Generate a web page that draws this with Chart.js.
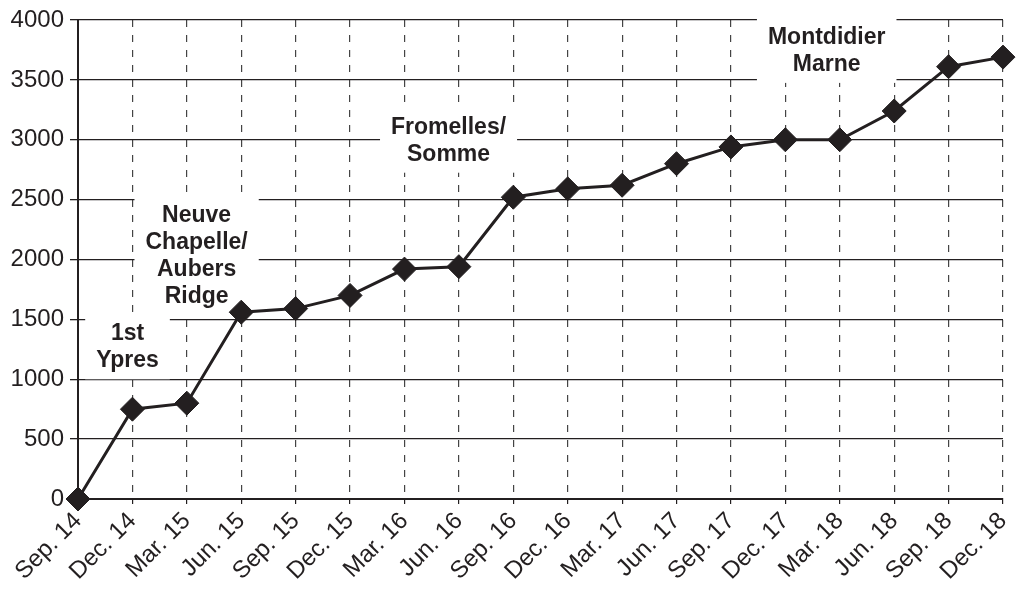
<!DOCTYPE html>
<html>
<head>
<meta charset="utf-8">
<script src="https://cdn.jsdelivr.net/npm/chart.js@4.4.1/dist/chart.umd.min.js"></script>
<style>
  html, body { margin: 0; padding: 0; background: #fff; }
  #wrap { width: 1016px; height: 590px; }
</style>
</head>
<body>
<div id="wrap"><canvas id="chart" width="1016" height="590"></canvas></div>
<script>
// quarters
var quarters = ['Sep. 14', 'Dec. 14', 'Mar. 15', 'Jun. 15', 'Sep. 15', 'Dec. 15',
  'Mar. 16', 'Jun. 16', 'Sep. 16', 'Dec. 16', 'Mar. 17', 'Jun. 17',
  'Sep. 17', 'Dec. 17', 'Mar. 18', 'Jun. 18', 'Sep. 18', 'Dec. 18'];

var totals = [0, 750, 800, 1560, 1590, 1700, 1920, 1940, 2520, 2590, 2620, 2800,
  2940, 3000, 3000, 3240, 3610, 3690];

var yTicks = [0, 500, 1000, 1500, 2000, 2500, 3000, 3500, 4000];

// battle labels, placed in data units (category index, value)
var battleNames = [['1st', 'Ypres'], ['Neuve', 'Chapelle/', 'Aubers', 'Ridge'],
  ['Fromelles/', 'Somme'], ['Montdidier', 'Marne']];
var battleAt = [[0.91, 1267], [2.18, 2025], [6.81, 2992], [13.76, 3742]];

var fontFam = '"Liberation Sans", Arial, Helvetica, sans-serif';
var labelFont = 'bold 23px ' + fontFam;

var battlePlugin = {
  id: 'battles',
  beforeDatasetsDraw: function(chart) {
    var ctx = chart.ctx;
    var xs = chart.scales.x, ys = chart.scales.y;
    var lineH = 27;
    ctx.save();
    ctx.font = labelFont;
    ctx.textAlign = 'center';
    ctx.textBaseline = 'middle';
    for (var i = 0; i < battleNames.length; i++) {
      var lines = battleNames[i];
      var cx = xs.getPixelForValue(battleAt[i][0]);
      var cy = ys.getPixelForValue(battleAt[i][1]);
      var w = 0;
      for (var j = 0; j < lines.length; j++) {
        w = Math.max(w, ctx.measureText(lines[j]).width);
      }
      var h = lines.length * lineH;
      ctx.fillStyle = '#fff';
      ctx.fillRect(cx - w / 2 - 11, cy - h / 2 - 5, w + 22, h + 10);
      ctx.fillStyle = '#231f20';
      for (var j = 0; j < lines.length; j++) {
        ctx.fillText(lines[j], cx, cy - h / 2 + lineH * (j + 0.5));
      }
    }
    ctx.restore();
  }
};

var ctx = document.getElementById('chart');

var lineChart = new Chart(ctx, {
  type: 'line',
  data: {
    labels: quarters,
    datasets: [{
      data: totals,
      borderColor: '#231f20',
      borderWidth: 3,
      backgroundColor: '#231f20',
      pointStyle: 'rectRot',
      pointRadius: 12,
      pointHoverRadius: 12,
      pointBorderWidth: 1,
      tension: 0,
      clip: false
    }]
  },
  plugins: [battlePlugin],
  options: {
    responsive: false,
    animation: false,
    events: [],
    layout: { padding: { top: 20, right: -5, left: 0, bottom: 0 } },
    plugins: {
      legend: { display: false },
      tooltip: { enabled: false }
    },
    scales: {
      x: {
        offset: false,
        grid: {
          color: '#444',
          lineWidth: 1.2,
          tickLength: 5,
          tickColor: '#231f20'
        },
        border: { display: true, color: '#231f20', width: 2, dash: [7, 8] },
        ticks: {
          autoSkip: false,
          maxRotation: 45,
          minRotation: 45,
          padding: 3,
          color: '#231f20',
          font: { family: fontFam, size: 24 }
        },
        afterFit: function(scale) {
          scale.height = 91;
          scale.paddingLeft = 0;
          scale.paddingRight = 0;
        }
      },
      y: {
        min: 0,
        max: 4000,
        afterBuildTicks: function(scale) {
          scale.ticks = yTicks.map(function(v) { return { value: v }; });
        },
        grid: {
          color: '#231f20',
          lineWidth: 1.3,
          tickLength: 8
        },
        border: { display: true, color: '#231f20', width: 2 },
        ticks: {
          padding: 6,
          color: '#231f20',
          font: { family: fontFam, size: 24 },
          callback: function(v) { return String(v); }
        },
        afterFit: function(scale) {
          scale.width = 78;
          scale.paddingTop = 0;
          scale.paddingBottom = 0;
        }
      }
    }
  }
});
</script>
</body>
</html>
